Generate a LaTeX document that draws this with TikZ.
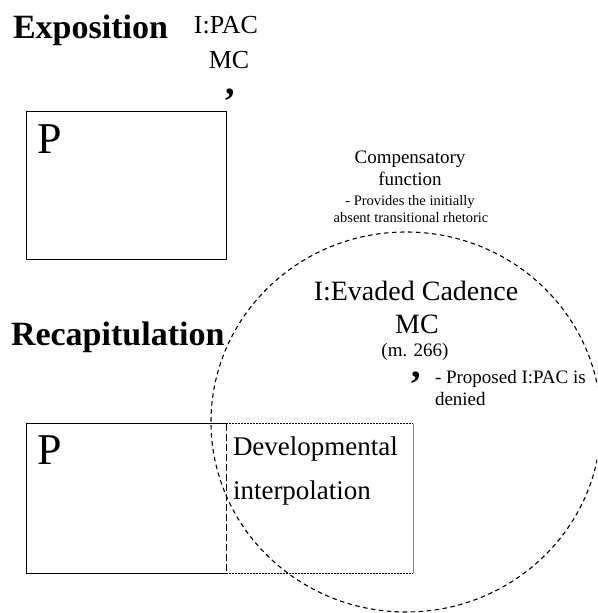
\documentclass[tikz,border=0pt]{standalone}
\usepackage{fontspec}
\setmainfont{Liberation Serif}
\begin{document}
\begin{tikzpicture}[x=1pt,y=-1pt,
  txt/.style={inner sep=0pt,outer sep=0pt},
  fs/.style={font=\fontsize{#1}{#1}\selectfont},
  bigbold/.style={txt,font=\fontsize{34}{34}\selectfont\bfseries},
  secbox/.style={draw,line width=0.8pt,minimum width=200pt,minimum height=148pt,inner sep=0pt},
  breath/.style={txt,font=\fontsize{38}{38}\selectfont\bfseries,text height=4pt,text depth=7pt},
  dashedcircle/.style={line width=1.1pt,dash pattern=on 4.5pt off 3.5pt}
]
\useasboundingbox (0,0) rectangle (597,613);
\clip (0,0) rectangle (597,613);

% Exposition
\node[bigbold,anchor=base west] (expo) at (13,38) {Exposition};
\node[txt,fs=26,anchor=base] (ipac) at (226,33) {I:PAC};
\node[txt,fs=26,anchor=base] (mc1) at (229,68) {MC};
\node[breath,anchor=base] (comma1) at (230,94) {,};
\node[secbox] (pbox1) at (126,185) {};
\node[txt,fs=44,anchor=base west] (p1) at (37,153) {P};

% Recapitulation
\node[bigbold,anchor=base west] (recap) at (11,345) {Recapitulation};
\coordinate (r1tl) at (26,423.5);
\coordinate (r1bl) at (26,573);
\coordinate (r1tr) at (226,423.5);
\coordinate (r1br) at (226,573);
\coordinate (r2tr) at (413,423.5);
\coordinate (r2br) at (413,573);
\draw[line width=0.8pt] (r1tr) -- (r1tl) -- (r1bl) -- (r1br);
\draw[line width=0.8pt,dash pattern=on 7pt off 3pt] (r1tr) -- (r1br);
\draw[line width=0.6pt,dash pattern=on 1.5pt off 1.5pt] (r1tr) -- (r2tr);
\draw[line width=0.6pt,dash pattern=on 1.5pt off 1.5pt] (r1br) -- (r2br);
\draw[line width=0.9pt,gray] (r2tr) -- (r2br);
\node[txt,fs=44,anchor=base west] (p2) at (37,464) {P};
\node[txt,fs=27,anchor=base west] (dev1) at (233,455) {Developmental};
\node[txt,fs=27,anchor=base west] (dev2) at (233,499) {interpolation};

% Circle
\coordinate (cc) at (406,422);
\draw[dashedcircle] (cc) ellipse [x radius=195pt, y radius=190pt];

% Compensatory function
\node[txt,fs=19,anchor=base] (comp1) at (410,163.3) {Compensatory};
\node[txt,fs=19,anchor=base] (comp2) at (410,185) {function};
\node[txt,fs=14.5,anchor=base] (comp3) at (410,205) {- Provides the initially};
\node[txt,fs=14.5,anchor=base] (comp4) at (411,222.3) {absent transitional rhetoric};

% Inside circle
\node[txt,fs=28,anchor=base] (evaded) at (416,300.7) {I:Evaded Cadence};
\node[txt,fs=28,anchor=base] (mc2) at (417,333.3) {MC};
\node[txt,fs=19,anchor=base] (m266) at (415,356) {(m. 266)};
\node[breath,anchor=base] (comma2) at (416,377) {,};
\node[txt,fs=19,anchor=base west] (prop1) at (435,383.3) {- Proposed I:PAC is};
\node[txt,fs=19,anchor=base west] (prop2) at (435,405) {denied};
\end{tikzpicture}
\end{document}
